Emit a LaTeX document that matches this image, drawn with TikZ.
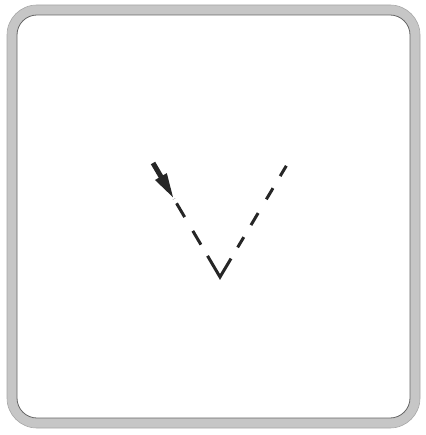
\documentclass[tikz,border=0pt]{standalone}
\usepackage{tikz}
\usetikzlibrary{arrows.meta}

\begin{document}
\begin{tikzpicture}[x=1pt, y=-1pt,
  frame/.style={line width=10pt, gray!45, rounded corners=25pt},
  beam/.style={line width=5pt, black!85, -{Triangle[length=26pt,width=12pt]}},
  ray/.style={line width=3pt, black!85, dash pattern=on 16pt off 16pt on 16pt off 13pt on 46pt off 13pt on 12pt off 14pt on 14pt off 16pt on 13pt off 14pt on 12pt off 5pt, dash phase=215pt}]
\useasboundingbox (0,0) rectangle (425,435);
% frame
\draw[frame] (12,10) rectangle (415,423);
\draw[black!35, line width=0.6pt, rounded corners=30pt] (7,5) rectangle (420,428);
\draw[black!60, line width=0.8pt, rounded corners=20pt] (17,15) rectangle (410,418);
% points of the ray
\coordinate (tail) at (153,163);
\coordinate (tip) at (174,199);
\coordinate (apex) at (220,277);
\coordinate (rayend) at (288,163);
% incoming arrow and dashed path
\draw[beam] (tail) -- (tip);
\draw[ray] (tip) -- (apex) -- (rayend);
\end{tikzpicture}
\end{document}
